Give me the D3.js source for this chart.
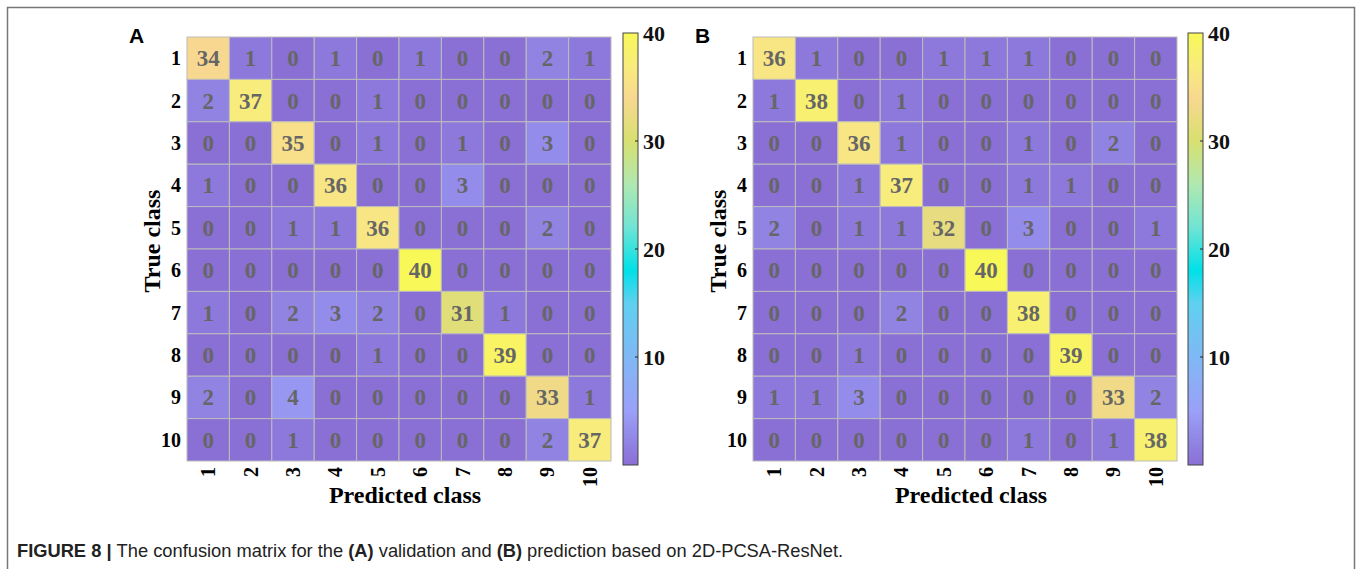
<!DOCTYPE html>
<html>
<head>
<meta charset="utf-8">
<script src="https://cdn.jsdelivr.net/npm/d3@7"></script>
<style>
body { margin: 0; background: #fff; }
svg { display: block; }
</style>
</head>
<body>
<svg id="fig" width="1360" height="569"></svg>
<script>
var classes = ["1", "2", "3", "4", "5", "6", "7", "8", "9", "10"];
var matrixA = [
    [34, 1, 0, 1, 0, 1, 0, 0, 2, 1],
    [2, 37, 0, 0, 1, 0, 0, 0, 0, 0],
    [0, 0, 35, 0, 1, 0, 1, 0, 3, 0],
    [1, 0, 0, 36, 0, 0, 3, 0, 0, 0],
    [0, 0, 1, 1, 36, 0, 0, 0, 2, 0],
    [0, 0, 0, 0, 0, 40, 0, 0, 0, 0],
    [1, 0, 2, 3, 2, 0, 31, 1, 0, 0],
    [0, 0, 0, 0, 1, 0, 0, 39, 0, 0],
    [2, 0, 4, 0, 0, 0, 0, 0, 33, 1],
    [0, 0, 1, 0, 0, 0, 0, 0, 2, 37]
];
var matrixB = [
    [36, 1, 0, 0, 1, 1, 1, 0, 0, 0],
    [1, 38, 0, 1, 0, 0, 0, 0, 0, 0],
    [0, 0, 36, 1, 0, 0, 1, 0, 2, 0],
    [0, 0, 1, 37, 0, 0, 1, 1, 0, 0],
    [2, 0, 1, 1, 32, 0, 3, 0, 0, 1],
    [0, 0, 0, 0, 0, 40, 0, 0, 0, 0],
    [0, 0, 0, 2, 0, 0, 38, 0, 0, 0],
    [0, 0, 1, 0, 0, 0, 0, 39, 0, 0],
    [1, 1, 3, 0, 0, 0, 0, 0, 33, 2],
    [0, 0, 0, 0, 0, 0, 1, 0, 1, 38]
];
var colorTicks = [10, 20, 30, 40];
var colorDomain = [0, 5, 10, 15, 18, 22, 26, 30, 34, 37, 40];
var colorRange = ["#8a6fd4", "#9aa0f8", "#80b8f5", "#5fd0f0", "#00e0e8", "#70e4d4",
    "#b0e8b0", "#d8e070", "#f8d890", "#f8ec7c", "#f8f858"];

var svg = d3.select("#fig");
var serif = "'Liberation Serif', 'Times New Roman', serif";
var sans = "'Liberation Sans', Arial, sans-serif";

var color = d3.scaleLinear().domain(colorDomain).range(colorRange).clamp(true);

// figure frame
svg.append("path")
    .attr("d", "M7.5,569 V7.5 H1354.5 V569")
    .attr("fill", "none").attr("stroke", "#777").attr("stroke-width", 1.5);

function drawPanel(letter, data, left, barX) {
    var g = svg.append("g");
    var x = d3.scaleBand().domain(classes).range([left, left + 424]);
    var y = d3.scaleBand().domain(classes).range([37, 461]);

    var cells = [];
    data.forEach(function (row, i) {
        row.forEach(function (v, j) {
            cells.push({ r: classes[i], c: classes[j], v: v });
        });
    });

    g.selectAll("rect.cell").data(cells).enter().append("rect")
        .attr("class", "cell")
        .attr("x", function (d) { return x(d.c); })
        .attr("y", function (d) { return y(d.r); })
        .attr("width", x.bandwidth())
        .attr("height", y.bandwidth())
        .attr("fill", function (d) { return color(d.v); })
        .attr("stroke", "#bcbcbc").attr("stroke-width", 1);

    g.selectAll("text.val").data(cells).enter().append("text")
        .attr("class", "val")
        .attr("x", function (d) { return x(d.c) + x.bandwidth() / 2; })
        .attr("y", function (d) { return y(d.r) + y.bandwidth() / 2 + 8; })
        .attr("text-anchor", "middle")
        .style("font-family", serif).style("font-weight", "bold").style("font-size", "23px")
        .attr("fill", "#666")
        .text(function (d) { return d.v; });

    // row labels
    g.selectAll("text.rl").data(classes).enter().append("text")
        .attr("x", left - 6)
        .attr("y", function (d) { return y(d) + y.bandwidth() / 2 + 7; })
        .attr("text-anchor", "end")
        .style("font-family", serif).style("font-weight", "bold").style("font-size", "20px")
        .text(function (d) { return d; });

    // column labels, rotated
    g.selectAll("text.cl").data(classes).enter().append("text")
        .attr("transform", function (d) {
            return "translate(" + (x(d) + x.bandwidth() / 2 + 7) + ",467) rotate(-90)";
        })
        .attr("text-anchor", "end")
        .style("font-family", serif).style("font-weight", "bold").style("font-size", "20px")
        .text(function (d) { return d; });

    g.append("text")
        .attr("x", left + 218).attr("y", 503)
        .attr("text-anchor", "middle")
        .style("font-family", serif).style("font-weight", "bold").style("font-size", "24px")
        .text("Predicted class");

    g.append("text")
        .attr("transform", "translate(" + (left - 27) + ",241) rotate(-90)")
        .attr("text-anchor", "middle")
        .style("font-family", serif).style("font-weight", "bold").style("font-size", "24px")
        .text("True class");

    g.append("text")
        .attr("x", left - 58).attr("y", 43)
        .style("font-family", sans).style("font-weight", "bold").style("font-size", "21px")
        .text(letter);

    // colorbar
    var cy = d3.scaleLinear().domain([0, 40]).range([465, 33]);
    var gradId = "grad" + letter;
    var grad = svg.append("defs").append("linearGradient")
        .attr("id", gradId).attr("x1", 0).attr("y1", 1).attr("x2", 0).attr("y2", 0);
    colorDomain.forEach(function (v) {
        grad.append("stop").attr("offset", v / 40).attr("stop-color", color(v));
    });
    g.append("rect")
        .attr("x", barX).attr("y", cy(40))
        .attr("width", 15).attr("height", cy(0) - cy(40))
        .attr("fill", "url(#" + gradId + ")")
        .attr("stroke", "#444").attr("stroke-width", 1);

    var ax = g.append("g").attr("transform", "translate(" + (barX + 15) + ",0)")
        .call(d3.axisRight(cy).tickValues(colorTicks).tickSize(0).tickPadding(5));
    ax.select(".domain").remove();
    ax.selectAll("text")
        .style("font-family", serif).style("font-weight", "bold").style("font-size", "22px")
        .attr("fill", "#111");
    g.selectAll("line.ct").data(colorTicks.slice(0, 3)).enter().append("line")
        .attr("x1", barX + 15).attr("x2", barX + 12)
        .attr("y1", function (d) { return cy(d); })
        .attr("y2", function (d) { return cy(d); })
        .attr("stroke", "#222");
}

drawPanel("A", matrixA, 187, 623);
drawPanel("B", matrixB, 753, 1188);

// caption
var cap = svg.append("text").attr("x", 17).attr("y", 557)
    .style("font-family", sans).style("font-size", "18.3px").attr("fill", "#222");
cap.append("tspan").style("font-weight", "bold").text("FIGURE 8 | ");
cap.append("tspan").text("The confusion matrix for the ");
cap.append("tspan").style("font-weight", "bold").text("(A)");
cap.append("tspan").text(" validation and ");
cap.append("tspan").style("font-weight", "bold").text("(B)");
cap.append("tspan").text(" prediction based on 2D-PCSA-ResNet.");
</script>
</body>
</html>
